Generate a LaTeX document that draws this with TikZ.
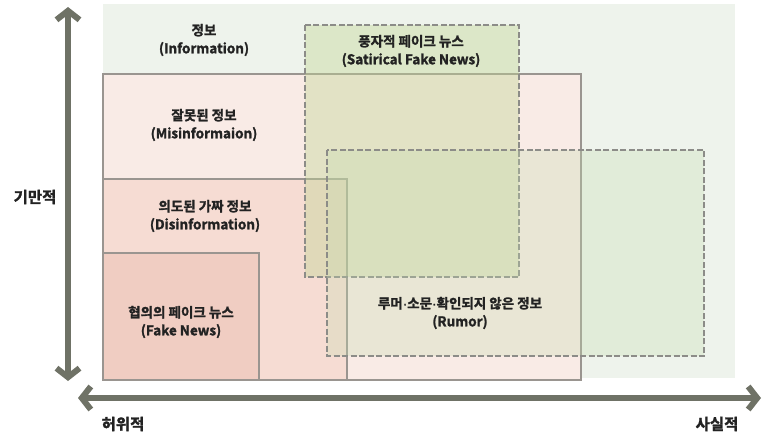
\documentclass[tikz,border=0pt]{standalone}
\usepackage{fontspec}
\setmainfont{Noto Sans CJK KR Bold}[FakeBold=1.6]
\newfontfamily\latinf{Liberation Sans}[FakeBold=1.6]
\usetikzlibrary{arrows.meta}
\definecolor{infobg}{HTML}{EEF3EC}
\definecolor{misbg}{HTML}{F9EBE6}
\definecolor{disbg}{HTML}{F6DCD3}
\definecolor{fakebg}{HTML}{F0CDC2}
\definecolor{satbg}{RGB}{193,213,148}
\definecolor{rumbg}{RGB}{198,220,176}
\definecolor{edgegray}{HTML}{9A9590}
\definecolor{dashgray}{HTML}{8C8C88}
\definecolor{axisgray}{HTML}{6F7266}
\definecolor{txt}{HTML}{222222}
\newcommand{\mdot}{{\latinf ·}}
\tikzset{
  solidbox/.style={draw=edgegray, line width=1.2pt},
  dashbox/.style={draw=dashgray, line width=1.3pt, dash pattern=on 6pt off 2.5pt},
  lbl/.style={align=center, text=txt, inner sep=0pt, font=\fontsize{13.5}{18}\selectfont},
  axlbl/.style={text=txt, inner sep=0pt, font=\fontsize{15.5}{18}\selectfont},
  axis/.style={draw=axisgray, line width=6pt,
    {Straight Barb[length=9pt,width=23pt]}-{Straight Barb[length=9pt,width=23pt]}}
}
\begin{document}
\begin{tikzpicture}[x=1pt,y=-1pt]
\useasboundingbox (0,0) rectangle (766,439);
% regions
\fill[infobg] (103,4) rectangle (735,378);
\fill[misbg] (103,74) rectangle (581,380);
\draw[solidbox] (103,380) -- (103,74) -- (581,74) -- (581,380) -- cycle;
\fill[disbg] (103,179) rectangle (347,380);
\draw[solidbox] (103,179) rectangle (347,380);
\fill[fakebg] (103,253) rectangle (259,380);
\draw[solidbox] (103,253) rectangle (259,380);
\fill[satbg, fill opacity=0.4] (305,25) rectangle (519,277);
\draw[dashbox] (305,25) rectangle (519,277);
\fill[rumbg, fill opacity=0.3] (327,150) rectangle (704,356);
\draw[dashbox] (327,150) rectangle (704,356);
% labels
\node[lbl] (info) at (204,40) {정보\\(Information)};
\node[lbl] (sat) at (411,51) {풍자적 페이크 뉴스\\(Satirical Fake News)};
\node[lbl] (mis) at (204,125) {잘못된 정보\\(Misinformaion)};
\node[lbl] (dis) at (205,216) {의도된 가짜 정보\\(Disinformation)};
\node[lbl] (fake) at (181,322) {협의의 페이크 뉴스\\(Fake News)};
\node[lbl] (rum) at (460,313) {루머\mdot 소문\mdot 확인되지 않은 정보\\(Rumor)};
% axes
\coordinate (vtop) at (68,7);
\coordinate (vbot) at (68,381);
\coordinate (hleft) at (78,398);
\coordinate (hright) at (761,398);
\draw[axis] (vtop) -- (vbot);
\draw[axis] (hleft) -- (hright);
\node[axlbl] (deceptive) at (35,197) {기만적};
\node[axlbl] (false) at (123,424) {허위적};
\node[axlbl] (factual) at (717,424) {사실적};
\end{tikzpicture}
\end{document}
